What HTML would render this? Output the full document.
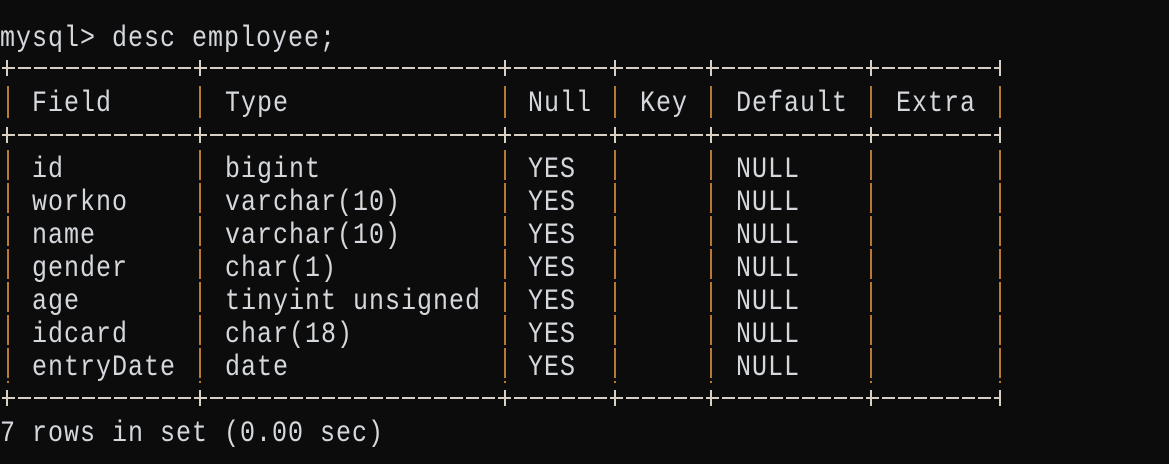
<!DOCTYPE html>
<html><head><style>
body{margin:0;width:1169px;height:464px;background:#0c0c0c;overflow:hidden;position:relative;font-family:"Liberation Mono","Noto Serif CJK SC",monospace;}
.t{position:absolute;color:#d4d8dc;font-size:25px;line-height:30px;height:30px;white-space:pre;transform:scaleY(1.2);transform-origin:0 50%;letter-spacing:1px;}
svg{position:absolute;left:0;top:0}
</style></head><body>
<svg width="1169" height="464">
<g stroke="#d8d0c4" stroke-width="2" stroke-dasharray="13 3">
<line x1="2" y1="68" x2="1000" y2="68"/>
<line x1="2" y1="135" x2="1000" y2="135"/>
<line x1="2" y1="398" x2="1000" y2="398"/>
</g>
<g stroke="#d8d0c4" stroke-width="2">
<path d="M7 60v16M200 60v16M505 60v16M615 60v16M711 60v16M871 60v16M1000 60v16"/>
<path d="M7 127v16M200 127v16M505 127v16M615 127v16M711 127v16M871 127v16M1000 127v16"/>
<path d="M7 390v16M200 390v16M505 390v16M615 390v16M711 390v16M871 390v16M1000 390v16"/>
</g>
<g stroke="#b87a30" stroke-width="2" id="p">
<path d="M8 86v32M200 86v32M505 86v32M615 86v32M711 86v32M871 86v32M1000 86v32"/>
<path d="M8 150v233M200 150v233M505 150v233M615 150v233M711 150v233M871 150v233M1000 150v233" stroke-dasharray="30 3"/>
</g>
</svg>
<div class="t" style="left:0;top:24px">mysql&gt; desc employee;</div>
<div class="t" style="left:32px;top:89px">Field</div>
<div class="t" style="left:225px;top:89px">Type</div>
<div class="t" style="left:528px;top:89px">Null</div>
<div class="t" style="left:640px;top:89px">Key</div>
<div class="t" style="left:736px;top:89px">Default</div>
<div class="t" style="left:896px;top:89px">Extra</div>

<div class="t" style="left:32px;top:155px">id</div><div class="t" style="left:225px;top:155px">bigint</div><div class="t" style="left:528px;top:155px">YES</div><div class="t" style="left:736px;top:155px">NULL</div>
<div class="t" style="left:32px;top:188px">workno</div><div class="t" style="left:225px;top:188px">varchar(10)</div><div class="t" style="left:528px;top:188px">YES</div><div class="t" style="left:736px;top:188px">NULL</div>
<div class="t" style="left:32px;top:221px">name</div><div class="t" style="left:225px;top:221px">varchar(10)</div><div class="t" style="left:528px;top:221px">YES</div><div class="t" style="left:736px;top:221px">NULL</div>
<div class="t" style="left:32px;top:254px">gender</div><div class="t" style="left:225px;top:254px">char(1)</div><div class="t" style="left:528px;top:254px">YES</div><div class="t" style="left:736px;top:254px">NULL</div>
<div class="t" style="left:32px;top:287px">age</div><div class="t" style="left:225px;top:287px">tinyint unsigned</div><div class="t" style="left:528px;top:287px">YES</div><div class="t" style="left:736px;top:287px">NULL</div>
<div class="t" style="left:32px;top:320px">idcard</div><div class="t" style="left:225px;top:320px">char(18)</div><div class="t" style="left:528px;top:320px">YES</div><div class="t" style="left:736px;top:320px">NULL</div>
<div class="t" style="left:32px;top:353px">entryDate</div><div class="t" style="left:225px;top:353px">date</div><div class="t" style="left:528px;top:353px">YES</div><div class="t" style="left:736px;top:353px">NULL</div>

<div class="t" style="left:0;top:419px">7 rows in set (0.00 sec)</div>
</body></html>
